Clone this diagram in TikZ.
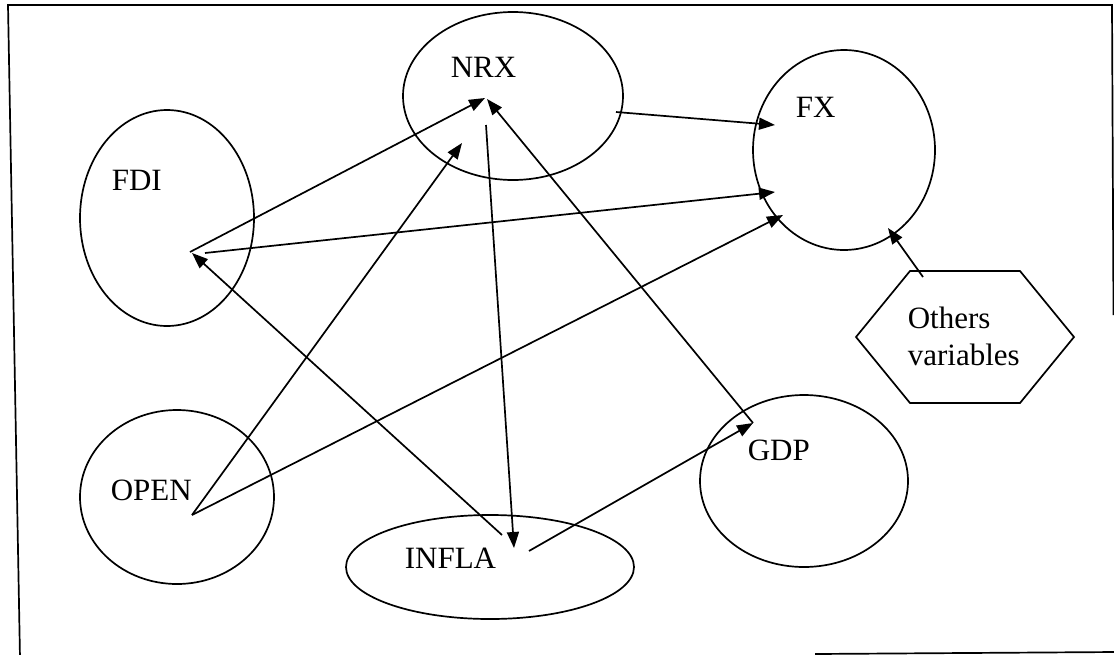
\documentclass[tikz,border=0pt]{standalone}
\usepackage{fontspec}
\setmainfont{Liberation Serif}
\usetikzlibrary{arrows.meta,shapes.geometric}
\begin{document}
\begin{tikzpicture}[x=1pt,y=-1pt,line width=1.7pt,
  oval/.style={draw,ellipse,inner sep=0pt},
  lbl/.style={anchor=base west,inner sep=0pt,font=\fontsize{31}{37}\selectfont},
  arr/.style={-{Triangle[length=16pt,width=12pt]}}]
\useasboundingbox (0,0) rectangle (1114,654);
\begin{scope}
  \clip (0,0) rectangle (1114,654);
  \draw (20,658) -- (8,5) -- (1112,5) -- (1113.5,315);
  \draw (815,654) -- (1116,652);
\end{scope}
% ellipses
\node[oval,minimum width=174pt,minimum height=216pt] (fdi) at (167,218) {};
\node[oval,minimum width=220pt,minimum height=168pt] (nrx) at (513,96) {};
\node[oval,minimum width=182pt,minimum height=200pt] (fx) at (844,150) {};
\node[oval,minimum width=194pt,minimum height=174pt] (open) at (177,497) {};
\node[oval,minimum width=288pt,minimum height=104pt] (infla) at (490,567) {};
\node[oval,minimum width=208pt,minimum height=172pt] (gdp) at (804,481) {};
\draw (910,271) -- (1020,271) -- (1074,337) -- (1020,403) -- (910,403) -- (856,337) -- cycle;
% labels
\node[lbl] (tnrx) at (450,77) {NRX};
\node[lbl] (tfx) at (795,117) {FX};
\node[lbl] (tfdi) at (111,190) {FDI};
\node[lbl] (topen) at (110,500) {OPEN};
\node[lbl] (tinfla) at (404,568) {INFLA};
\node[lbl] (tgdp) at (747,460) {GDP};
\node[lbl,align=left] (tothers) at (907,365) {Others\\variables};
% arrow end points
\coordinate (fdiA) at (190,252);
\coordinate (fdiB) at (205,253);
\coordinate (fdiT) at (192,253);
\coordinate (nrxA) at (485,98);
\coordinate (nrxB) at (462,143);
\coordinate (nrxC) at (486,125);
\coordinate (nrxD) at (487,99);
\coordinate (nrxE) at (616,112);
\coordinate (fxA) at (775,192);
\coordinate (fxB) at (775,125);
\coordinate (fxC) at (783,215);
\coordinate (fxD) at (888,228);
\coordinate (openA) at (192,515);
\coordinate (inflaA) at (502,535);
\coordinate (inflaB) at (529,551);
\coordinate (inflaT) at (514,548);
\coordinate (gdpA) at (753,423);
\coordinate (gdpT) at (753,423);
\coordinate (othA) at (923,277);
% connectors
\draw[arr] (fdiA) -- (nrxA);
\draw[arr] (fdiB) -- (fxA);
\draw[arr] (inflaA) -- (fdiT);
\draw[arr] (openA) -- (nrxB);
\draw[arr] (nrxC) -- (inflaT);
\draw[arr] (gdpA) -- (nrxD);
\draw[arr] (inflaB) -- (gdpT);
\draw[arr] (nrxE) -- (fxB);
\draw[arr] (openA) -- (fxC);
\draw[arr] (othA) -- (fxD);
\end{tikzpicture}
\end{document}
